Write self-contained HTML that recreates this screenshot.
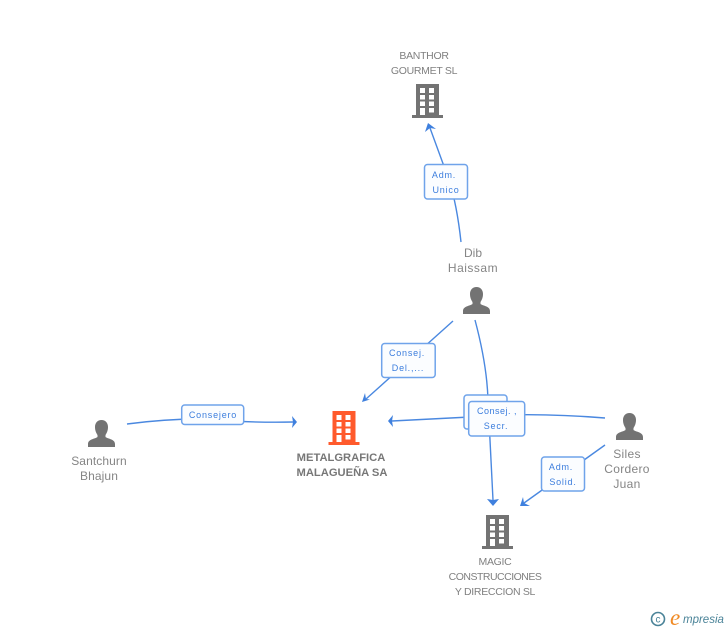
<!DOCTYPE html>
<html><head><meta charset="utf-8">
<style>
html,body{margin:0;padding:0;background:#fff;}
svg{display:block;}
text{font-family:"Liberation Sans",Arial,sans-serif;}
.n{font-size:12px;fill:#858585;text-anchor:middle;}
.u{font-size:10.500px;fill:#808080;text-anchor:middle;letter-spacing:-.3px;}
.b{font-size:11.200px;fill:#777;font-weight:bold;text-anchor:middle;}
.l{font-size:9px;fill:#3b7ddd;text-anchor:middle;letter-spacing:.8px;}
.c{fill:none;stroke:#4a88e0;stroke-width:1.400;}
.a{fill:#3f80de;}
.box{fill:#fbfdff;stroke:#6fa3ea;stroke-width:1.500;}
</style></head><body>
<svg width="728" height="630" viewBox="0 0 728 630" xmlns="http://www.w3.org/2000/svg">
<defs>
<g id="bld">
<path fill-rule="evenodd" d="M4 0H27V31H31V34H0V31H4ZM8 4V9H13V4ZM17 4V9H22V4ZM8 11V15.500H13V11ZM17 11V15.500H22V11ZM8 17.500V22H13V17.500ZM17 17.500V22H22V17.500ZM8 24V31H13V24ZM17 24V28.500H22V24Z"/>
</g>
<g id="per">
<path d="M13.500 0C17.500 0 20 3 20 7C20 10.500 18.800 13 17.500 15V17C20 19 27 19 27 24V27H0V24C0 19 7 19 9.500 17V15C8.200 13 7 10.500 7 7C7 3 9.500 0 13.500 0Z"/>
</g>
</defs>

<!-- connectors -->
<path class="c" d="M461 242Q457 205 449 180L430 128"/>
<path class="a" d="M428 123L436 129L430 128L425 132Z"/>
<path class="c" d="M453 321L366 399"/>
<path class="a" d="M362 402L370 399.500L366 399L365 393Z"/>
<path class="c" d="M475 320Q487 365 488 400L493 500"/>
<path class="a" d="M493 506L487 499L493 500L499 499Z"/>
<path class="c" d="M605 418Q530 412 470 417L392 421"/>
<path class="a" d="M388 421L393 415L392 421L393 427Z"/>
<path class="c" d="M127 424Q165 419 200 419Q250 423 293 422"/>
<path class="a" d="M297 422L292 416L293 422L292 428Z"/>
<path class="c" d="M605 445L524 503"/>
<path class="a" d="M520 506L523 497L524 503L530 506Z"/>

<!-- label boxes -->
<rect class="box" x="424.500" y="164.500" width="43" height="34.500" rx="3"/>
<text class="l" x="444" y="178">Adm.</text>
<text class="l" x="446" y="193">Unico</text>

<rect class="box" x="381.700" y="343.500" width="53.500" height="34" rx="3"/>
<text class="l" x="407" y="356">Consej.</text>
<text class="l" x="408" y="371">Del.,...</text>

<rect class="box" x="181.700" y="405" width="62" height="19.500" rx="3"/>
<text class="l" x="213" y="418">Consejero</text>

<rect class="box" x="464" y="395" width="43" height="34" rx="3"/>
<rect class="box" x="468.700" y="401.500" width="56" height="34.500" rx="3"/>
<text class="l" x="497" y="414" style="letter-spacing:.5px">Consej. ,</text>
<text class="l" x="496" y="429">Secr.</text>

<rect class="box" x="541.500" y="457" width="43" height="34" rx="3"/>
<text class="l" x="561" y="470">Adm.</text>
<text class="l" x="563" y="485">Solid.</text>

<!-- icons -->
<use href="#bld" x="412" y="84" fill="#737373"/>
<use href="#bld" x="482" y="515" fill="#737373"/>
<use href="#bld" x="328.500" y="411" fill="#ff5a2c"/>
<use href="#per" x="88" y="420" fill="#737373"/>
<use href="#per" x="463" y="287" fill="#737373"/>
<use href="#per" x="616" y="413" fill="#737373"/>

<!-- node labels -->
<text class="u" x="424" y="59">BANTHOR</text>
<text class="u" x="424" y="74">GOURMET SL</text>
<text class="n" x="473" y="257">Dib</text>
<text class="n" x="473" y="272" style="letter-spacing:.5px">Haissam</text>
<text class="n" x="99" y="465" style="letter-spacing:.1px">Santchurn</text>
<text class="n" x="99" y="480" style="letter-spacing:.1px">Bhajun</text>
<text class="b" x="341" y="461">METALGRAFICA</text>
<text class="b" x="342" y="476">MALAGUEÑA SA</text>
<text class="n" x="627" y="458" style="letter-spacing:.3px">Siles</text>
<text class="n" x="627" y="473" style="letter-spacing:.3px">Cordero</text>
<text class="n" x="627" y="488" style="letter-spacing:.3px">Juan</text>
<text class="u" x="495" y="565">MAGIC</text>
<text class="u" x="495" y="580" style="letter-spacing:-.5px">CONSTRUCCIONES</text>
<text class="u" x="495" y="595">Y DIRECCION SL</text>

<!-- logo -->
<circle cx="658" cy="619" r="6.500" fill="none" stroke="#4a8398" stroke-width="1.600"/>
<text x="658" y="622.500" style="font-size:10px;fill:#4a8398;text-anchor:middle;">c</text>
<text x="670" y="625" style="font-family:'Liberation Serif',serif;font-style:italic;font-size:23px;fill:#f08a24;">e</text>
<text x="683" y="623" style="font-style:italic;font-size:11.500px;fill:#4a8398;">mpresia</text>
</svg>
</body></html>
